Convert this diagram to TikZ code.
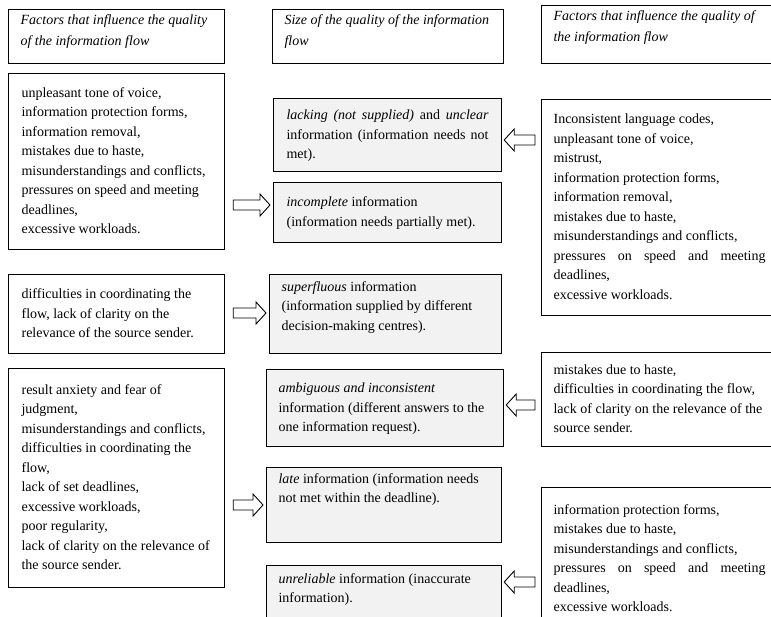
\documentclass[tikz,border=0pt]{standalone}
\usepackage{fontspec}
\setmainfont{Liberation Serif}
\usetikzlibrary{calc}

\newcommand{\cell}[4][c]{\parbox[c][#3][#1]{#2}{\raggedright\strut#4\strut}}
\newcommand{\fullline}[1]{\makebox[\linewidth][s]{#1}}
\newcommand{\rarr}[3]{\draw[blockarr] let \p1=(#1.east |- 0,#3), \p2=(#2.west |- 0,#3) in
  (\x1+8pt,\y1+5pt) -- (\x2-13pt,\y1+5pt) -- (\x2-13pt,\y1+11pt) -- (\x2-3pt,\y1)
  -- (\x2-13pt,\y1-11pt) -- (\x2-13pt,\y1-5pt) -- (\x1+8pt,\y1-5pt) -- cycle;}
\newcommand{\larr}[3]{\draw[blockarr] let \p1=(#1.west |- 0,#3), \p2=(#2.east |- 0,#3) in
  (\x1-6pt,\y1+5pt) -- (\x2+12pt,\y1+5pt) -- (\x2+12pt,\y1+11pt) -- (\x2+2pt,\y1)
  -- (\x2+12pt,\y1-11pt) -- (\x2+12pt,\y1-5pt) -- (\x1-6pt,\y1-5pt) -- cycle;}

\begin{document}
\begin{tikzpicture}[x=1pt, y=-1pt,
    factor/.style={draw, line width=1.2pt, anchor=north west, inner xsep=13pt, inner ysep=0pt,
      font=\fontsize{14}{19.5}\selectfont},
    quality/.style={factor, fill=gray!10},
    heading/.style={factor, inner xsep=12pt, font=\fontsize{14}{21}\selectfont\itshape},
    blockarr/.style={draw, line width=0.9pt, fill=white}]
  \useasboundingbox (0,0) rectangle (771,616);

  \node[heading] (h1) at (8,9) {\cell[t]{192pt}{54pt}{Factors that influence the quality\\of the information flow}};
  \node[heading] (h2) at (272,9) {\cell[t]{207pt}{54pt}{Size of the quality of the information\\flow}};
  \node[heading] (h3) at (541,5) {\cell[t]{212pt}{58pt}{Factors that influence the quality of\\the information flow}};

  \node[factor] (c1) at (8,73) {\cell{190pt}{176pt}{unpleasant tone of voice,\\information protection forms,\\information removal,\\mistakes due to haste,\\misunderstandings and conflicts,\\pressures on speed and meeting\\deadlines,\\excessive workloads.}};
  \node[factor] (c2) at (8,274) {\cell{190pt}{79pt}{difficulties in coordinating the\\flow, lack of clarity on the\\relevance of the source sender.}};
  \node[factor] (c3) at (8,368) {\cell{190pt}{219pt}{result anxiety and fear of\\judgment,\\misunderstandings and conflicts,\\difficulties in coordinating the\\flow,\\lack of set deadlines,\\excessive workloads,\\poor regularity,\\lack of clarity on the relevance of\\the source sender.}};

  \node[quality] (lacking) at (273,98) {\cell{202pt}{73pt}{\fullline{\textit{lacking (not supplied)} and \textit{unclear}}\\\fullline{information (information needs not}\\met).}};
  \node[quality] (incomplete) at (273,182) {\cell{202pt}{60pt}{\textit{incomplete} information\\(information needs partially met).}};
  \node[quality, inner xsep=12pt, inner ysep=3pt] (superfluous) at (269,274) {\cell[t]{208pt}{73pt}{\textit{superfluous} information\\(information supplied by different\\decision-making centres).}};
  \node[quality, inner xsep=12pt] (ambiguous) at (266,369) {\cell{213pt}{77pt}{\textit{ambiguous and inconsistent}\\information (different answers to the\\one information request).}};
  \node[quality, inner xsep=12pt, inner ysep=2pt] (late) at (266,467) {\cell[t]{211pt}{71pt}{\textit{late} information (information needs\\not met within the deadline).}};
  \node[quality, inner xsep=12pt, inner ysep=4pt] (unreliable) at (266,565) {\cell[t]{211pt}{60pt}{\textit{unreliable} information (inaccurate\\information).}};

  \node[factor, inner xsep=12pt] (r1) at (541,99) {\cell{212pt}{216pt}{Inconsistent language codes,\\unpleasant tone of voice,\\mistrust,\\information protection forms,\\information removal,\\mistakes due to haste,\\misunderstandings and conflicts,\\\fullline{pressures on speed and meeting}\\deadlines,\\excessive workloads.}};
  \node[factor, inner xsep=12pt] (r2) at (541,352) {\cell{212pt}{94pt}{mistakes due to haste,\\difficulties in coordinating the flow,\\lack of clarity on the relevance of the\\source sender.}};
  \node[factor, inner xsep=12pt] (r3) at (541,487) {\cell{212pt}{143pt}{information protection forms,\\mistakes due to haste,\\misunderstandings and conflicts,\\\fullline{pressures on speed and meeting}\\deadlines,\\excessive workloads.}};

  \rarr{c1}{incomplete}{205}
  \rarr{c2}{superfluous}{313}
  \rarr{c3}{late}{505}
  \larr{r1}{lacking}{140}
  \larr{r2}{ambiguous}{405}
  \larr{r3}{unreliable}{582}
\end{tikzpicture}
\end{document}
